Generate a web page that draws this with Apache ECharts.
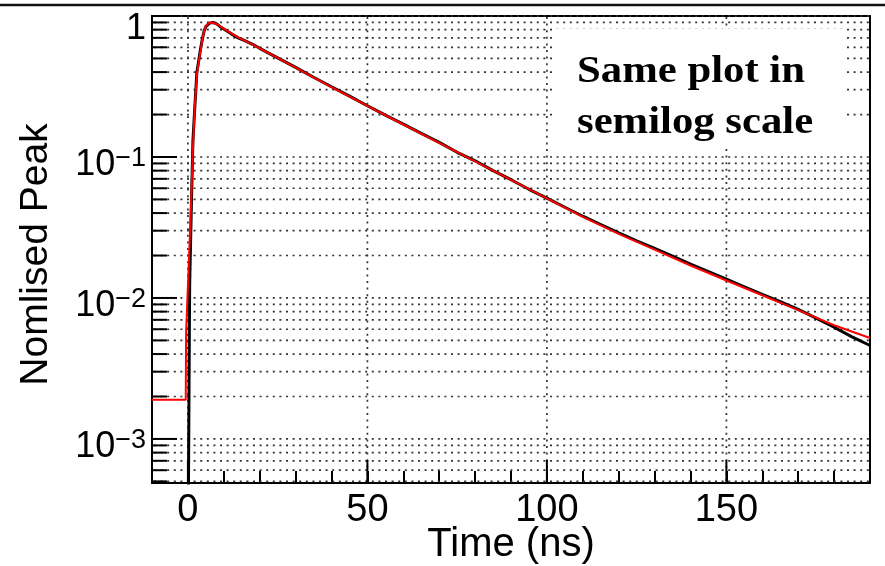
<!DOCTYPE html>
<html><head><meta charset="utf-8">
<script src="https://cdn.jsdelivr.net/npm/echarts@6/dist/echarts.min.js"></script>
<style>html,body{margin:0;padding:0;background:#fff}#c{width:885px;height:566px}</style>
</head><body><div id="c"></div>
<script>
// ---- data ----
const fitX = [-10, -0.6, -0.5, 0.9, 1.3, 1.9, 2.55, 3.3, 3.7, 4.2, 4.9, 5.8, 6.5, 7.2, 8.6, 10.4, 13.7, 17.4, 20, 25, 30, 35, 40, 50, 60, 70, 80, 90, 100, 110, 120, 130, 140, 150, 160, 170, 180, 190];
const fitY = [0.0019, 0.0019, 0.0057, 0.047, 0.1, 0.225, 0.39, 0.526, 0.603, 0.73, 0.836, 0.892, 0.90, 0.892, 0.86, 0.80, 0.71, 0.64, 0.59, 0.504, 0.43, 0.367, 0.313, 0.23, 0.17, 0.126, 0.093, 0.0687, 0.0508, 0.0376, 0.0285, 0.022, 0.017, 0.0133, 0.01045, 0.0082, 0.0064, 0.0052];
const dataX = [-10, -0.2, 0.3, 0.4, 0.5, 1.0, 1.4, 1.9, 2.5, 3.0, 3.5, 4.0, 4.5, 5.0, 6.0, 7.0, 8.0, 9.0, 10, 12, 14, 16, 18, 20, 25, 30, 35, 40, 45, 50, 55, 60, 65, 70, 75, 80, 85, 90, 95, 100, 105, 110, 115, 120, 125, 130, 135, 140, 145, 150, 155, 160, 165, 170, 175, 180, 185, 190];
const dataY = [1e-5, 1e-5, 1e-5, 0.0057, 0.0128, 0.05, 0.13, 0.22, 0.40, 0.48, 0.58, 0.68, 0.78, 0.84, 0.89, 0.90, 0.88, 0.84, 0.81, 0.75, 0.70, 0.665, 0.63, 0.59, 0.505, 0.432, 0.368, 0.315, 0.27, 0.231, 0.198, 0.171, 0.147, 0.127, 0.108, 0.094, 0.080, 0.069, 0.059, 0.051, 0.044, 0.038, 0.0332, 0.0290, 0.0254, 0.0225, 0.0198, 0.0174, 0.0154, 0.0136, 0.0120, 0.0106, 0.0094, 0.0083, 0.0072, 0.0062, 0.0053, 0.0046];
const xTickLabels = [0, 50, 100, 150];
const yMajorTicks = [0.001, 0.01, 0.1, 1];
const yMinorTicks = [0.0005, 0.0006, 0.0007, 0.0008, 0.0009,
  0.002, 0.003, 0.004, 0.005, 0.006, 0.007, 0.008, 0.009,
  0.02, 0.03, 0.04, 0.05, 0.06, 0.07, 0.08, 0.09,
  0.2, 0.3, 0.4, 0.5, 0.6, 0.7, 0.8, 0.9];
const xTitle = 'Time (ns)';
const yTitle = 'Nomlised Peak';
const noteLines = ['Same plot in', 'semilog scale'];

const X_MIN = -10, X_MAX = 190, Y_MIN = 0.000487, Y_MAX = 1;
const SANS = '"Liberation Sans", Arial, sans-serif';

function zip(a, b) { return a.map((v, i) => [v, b[i]]); }

const chart = echarts.init(document.getElementById('c'), null, {renderer: 'canvas'});

const dotted = {stroke: '#333', lineWidth: 1.7, lineDash: [2, 4.6]};

chart.setOption({
  animation: false,
  backgroundColor: '#fff',
  grid: {left: 152, top: 16, right: 15, bottom: 83, outerBoundsMode: 'none', containLabel: false,
    show: true, borderColor: '#000', borderWidth: 2, backgroundColor: 'transparent'},
  xAxis: {
    type: 'value', min: X_MIN, max: X_MAX, interval: 10,
    axisLine: {show: true, onZero: false, lineStyle: {color: '#000', width: 2}},
    axisTick: {show: true, inside: true, length: 12, lineStyle: {color: '#000', width: 2}},
    splitLine: {show: false},
    axisLabel: {
      margin: 9, color: '#000', fontFamily: SANS, fontSize: 38,
      formatter: v => xTickLabels.indexOf(Math.round(v)) >= 0 && Math.abs(v - Math.round(v)) < 1e-6 ? String(Math.round(v)) : ''
    },
    name: xTitle, nameLocation: 'middle', nameGap: 42, nameMoveOverlap: false,
    nameTextStyle: {color: '#000', fontFamily: SANS, fontSize: 40}
  },
  yAxis: {
    type: 'log', logBase: 10, min: Y_MIN, max: Y_MAX,
    axisLine: {show: true, onZero: false, lineStyle: {color: '#000', width: 2}},
    axisTick: {show: false},
    splitLine: {show: false},
    minorTick: {show: false},
    axisLabel: {
      margin: 6, color: '#000', fontFamily: SANS, fontSize: 36,
      padding: [16, 0, 0, 0],
      formatter: v => {
        const e = Math.log10(v), r = Math.round(e);
        if (Math.abs(e - r) > 1e-6) return '';
        if (r === 0) return '{c|1}';
        return '{b|10}{s|\u2212' + (-r) + '}';
      },
      rich: {
        b: {fontFamily: SANS, fontSize: 36, color: '#000', lineHeight: 40},
        c: {fontFamily: SANS, fontSize: 36, color: '#000', lineHeight: 40, padding: [10, 0, 0, 0]},
        s: {fontFamily: SANS, fontSize: 27, color: '#000', verticalAlign: 'top', lineHeight: 40, padding: [0, 0, 16, 0]}
      }
    },
    name: yTitle, nameLocation: 'middle', nameGap: 96, nameRotate: 90, nameMoveOverlap: false,
    nameTextStyle: {color: '#000', fontFamily: SANS, fontSize: 39, padding: [0, 10, 0, 0]}
  },
  series: [
    {
      type: 'custom', silent: true, z: 1, clip: false,
      data: yMajorTicks.concat(yMinorTicks).map(v => [X_MIN, v]),
      renderItem: (params, api) => {
        const v = api.value(1);
        const p0 = api.coord([X_MIN, v]);
        const p1 = api.coord([X_MAX, v]);
        const major = yMajorTicks.indexOf(v) >= 0;
        return {type: 'group', children: [
          {type: 'line', shape: {x1: p0[0] + 2, y1: p0[1], x2: p1[0] - 1, y2: p1[1]}, style: dotted},
          {type: 'line', shape: {x1: p0[0], y1: p0[1], x2: p0[0] + (major ? 25 : 15), y2: p0[1]}, style: {stroke: '#000', lineWidth: 2}}
        ]};
      }
    },
    {
      type: 'custom', silent: true, z: 1, clip: false,
      data: xTickLabels.map(v => [v, Y_MIN]),
      renderItem: (params, api) => {
        const v = api.value(0);
        const p0 = api.coord([v, Y_MIN]);
        const p1 = api.coord([v, Y_MAX]);
        return {type: 'group', children: [
          {type: 'line', shape: {x1: p0[0], y1: p0[1] - 2, x2: p1[0], y2: p1[1] + 1}, style: dotted},
          {type: 'line', shape: {x1: p0[0], y1: p0[1], x2: p0[0], y2: p0[1] - 23}, style: {stroke: '#000', lineWidth: 2}}
        ]};
      }
    },
    {
      type: 'line', z: 3, clip: true, showSymbol: false, symbol: 'none',
      data: zip(dataX, dataY),
      lineStyle: {color: '#000', width: 3}
    },
    {
      type: 'line', z: 4, clip: true, showSymbol: false, symbol: 'none',
      data: zip(fitX, fitY),
      lineStyle: {color: '#ff0000', width: 2}
    }
  ],
  graphic: [
    {type: 'line', shape: {x1: 0, y1: 5, x2: 885, y2: 5}, style: {stroke: '#111', lineWidth: 2.5}, z: 20},
    {type: 'rect', shape: {x: 555, y: 29, width: 290, height: 119}, style: {fill: '#fff'}, z: 10},
    {type: 'text', x: 577, y: 72, scaleX: 1.155, z: 11,
      style: {text: noteLines[0], font: 'bold 37px "Liberation Serif", "Times New Roman", serif', fill: '#000', verticalAlign: 'middle', align: 'left'}},
    {type: 'text', x: 577, y: 123, scaleX: 1.155, z: 11,
      style: {text: noteLines[1], font: 'bold 37px "Liberation Serif", "Times New Roman", serif', fill: '#000', verticalAlign: 'middle', align: 'left'}}
  ]
});
</script>
</body></html>
